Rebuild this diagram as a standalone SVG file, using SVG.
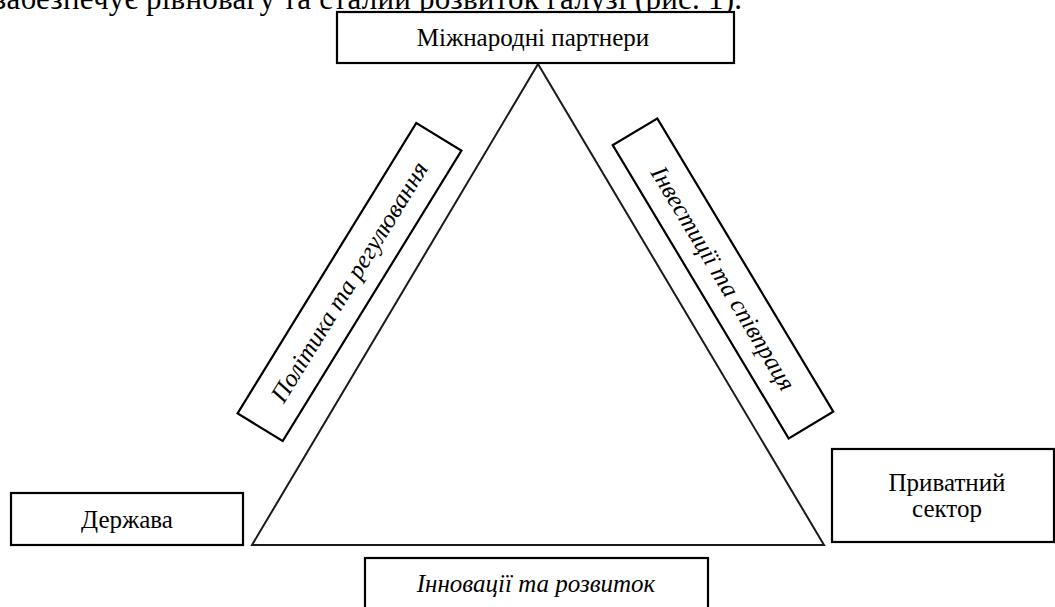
<svg xmlns="http://www.w3.org/2000/svg" width="1055" height="607" viewBox="0 0 1055 607">
<style>
.box{fill:#fff;stroke:#000;stroke-width:2.2}
.lbl{font-family:"Liberation Serif","Times New Roman",serif;font-size:25px;fill:#000;text-anchor:middle}
.it{font-style:italic}
.edge{fill:none;stroke:#1a1a1a;stroke-width:2}
</style>
<rect width="1055" height="607" fill="#fff"/>
<text x="-6" y="9" font-family="Liberation Serif, Times New Roman, serif" font-size="31" textLength="748" lengthAdjust="spacing">забезпечує рівновагу та сталий розвиток галузі (рис. 1).</text>
<g id="connectors">
<polygon class="edge" points="538,64 252,545 824,545"/>
</g>
<g id="node-partners">
<rect class="box" x="337" y="12" width="397" height="51"/>
<text class="lbl" x="533" y="46">Міжнародні партнери</text>
</g>
<g id="node-state">
<rect class="box" x="11" y="493" width="232" height="52"/>
<text class="lbl" x="127" y="528">Держава</text>
</g>
<g id="node-private">
<rect class="box" x="832" y="449" width="222" height="93"/>
<text class="lbl" x="947" y="491">Приватний</text>
<text class="lbl" x="947" y="517">сектор</text>
</g>
<g id="node-innovation">
<rect class="box" x="365" y="558" width="343" height="60"/>
<text class="lbl it" x="536" y="592">Інновації та розвиток</text>
</g>
<g id="node-policy" transform="translate(349.5,282) rotate(-58.4)">
<rect class="box" x="-170.5" y="-26.5" width="341" height="53"/>
<text class="lbl it" x="0" y="8">Політика та регулювання</text>
</g>
<g id="node-investment" transform="translate(723,278.4) rotate(59.04)">
<rect class="box" x="-171" y="-26" width="342" height="52"/>
<text class="lbl it" x="0" y="8">Інвестиції та співпраця</text>
</g>
</svg>
